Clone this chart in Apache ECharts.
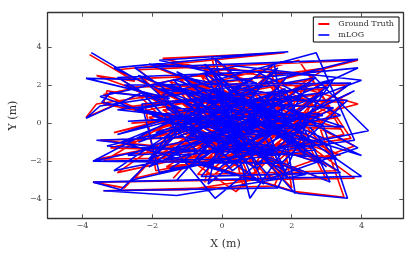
<!DOCTYPE html>
<html><head><meta charset="utf-8">
<script src="https://cdn.jsdelivr.net/npm/echarts@6/dist/echarts.min.js"></script>
<style>html,body{margin:0;padding:0;background:#fff}#c{width:416px;height:257px}</style>
</head><body><div id="c"></div>
<script>
const seriesNames = ["Ground Truth", "mLOG"];
const tickValues = [-4, -2, 0, 2, 4];
const groundTruth = [
[-3.8,3.6],[-2.5,2.2],[-3.6,2.5],[-1.6,1.2],[-3.3,1.7],[-3.4,1.0],[0.5,-0.4],[-3.0,2.8],[1.8,3.7],[-1.7,3.4],
[0.9,2.2],[-3.6,1.0],[-3.9,0.3],[-2.4,1.5],[-0.8,-1.4],[-3.5,-0.9],[2.2,-0.6],[-0.3,3.5],[0.6,-3.3],[3.1,2.2],
[-3.1,-0.5],[-1.2,0.4],[-3.4,-2.0],[1.6,-2.0],[3.5,1.1],[-0.4,1.3],[-2.8,-3.4],[-3.7,-3.1],[3.8,-2.9],[1.0,0.8],
[-2.0,3.0],[2.5,2.6],[3.5,-0.6],[-1.9,-2.5],[-2.2,0.9],[2.9,1.8],[-0.5,-3.1],[0.2,1.6],[3.9,3.3],[-2.4,2.8],
[0.5,-1.2],[-3.0,-2.6],[1.4,3.0],[2.0,-3.4],[0.0,0.3],[-2.6,0.0],[2.7,0.6],[1.2,-1.6],[-1.4,2.6],[3.4,-1.7],
[-0.9,0.9],[-2.0,-1.8],[3.9,1.0],[0.3,2.9],[-3.4,1.5],[-0.6,-0.6],[2.3,-2.6],[-1.0,-3.5],[-3.4,-3.55],[1.5,-3.3],
[2.6,1.2],[-1.2,2.3],[0.8,-0.9],[-2.7,1.9],[3.6,2.0],[0.2,-2.4],[-1.8,1.4],[2.2,3.3],[3.7,-0.8],[-0.3,-1.8],
[-3.6,-1.9],[1.0,-0.2],[-0.6,3.0],[2.9,-2.2],[0.6,1.0],[-2.3,-0.9],[1.7,1.7],[3.0,-3.0],[-0.2,-0.8],[-2.9,2.3],
[0.9,2.6],[3.3,0.3],[-1.5,-1.2],[0.4,-3.6],[2.4,0.0],[-0.8,1.8],[1.9,-1.0],[-2.5,-2.9],[-0.1,2.1],[3.0,2.9],
[0.7,0.2],[-1.6,-2.3],[2.6,-1.3],[-0.4,0.6],[1.3,-2.8],[3.8,-1.2],[1.1,1.3],[-1.3,-0.3],[0.3,-2.0],[2.8,1.5],
[-2.1,0.3],[0.0,-1.2],[1.8,2.4],[-0.7,-2.7],[3.3,-2.5],[0.5,0.6],[-1.9,2.0],[1.6,0.4],[-0.9,-1.9],[2.1,-3.6],
[3.5,-3.9],[2.8,-0.2],[0.1,1.2],[-1.1,-0.9],[1.4,-1.3],[-2.6,-1.6],[-0.2,0.0],[2.4,2.0],[0.9,-2.3],[-1.7,0.7],
[1.2,0.5],[-2.2,-2.2],[0.3,0.9],[2.7,-2.0],[-0.5,-0.3],[1.5,2.8],[-1.4,-2.9],[0.9,1.7],[-2.9,0.8],[1.9,-0.4],
[-0.6,2.5],[0.7,-1.5],[3.1,0.9],[-1.2,1.1],[0.2,-0.9],[2.2,1.4],[-1.8,-0.7],[0.6,2.1],[1.7,-2.4],[-0.9,0.2],
[2.5,-0.9],[-2.3,2.4],[0.0,-1.6],[1.4,1.0],[-1.6,-1.6],[2.9,-1.0],[-0.3,1.6],[0.8,-2.9],[-2.8,-1.1],[1.3,2.1],
[3.2,-1.8],[-0.7,-1.1],[0.4,0.1],[-1.9,1.7],[2.0,0.8],[-0.2,-2.3],[1.0,-0.6],[-2.4,0.6],[2.6,2.3],[-1.0,-2.2],
[0.5,1.4],[3.4,-0.3],[-1.4,0.0],[1.1,-3.1],[-0.4,2.7],[2.3,-1.6],[-3.2,-1.3],[0.7,0.5],[1.8,-2.8],[-1.1,1.6],
[0.1,-0.4],[2.8,0.3],[-2.0,-0.4],[1.5,1.5],[-0.5,-2.0],[3.7,1.6],[0.3,-1.4],[-1.5,2.2],[1.9,0.1],[-0.8,-0.7]
];
const mLOG = [
[-3.75,3.7],[-2.45,2.3],[-3.9,2.35],[-1.5,1.3],[-3.2,1.6],[-3.45,1.1],[0.6,-0.3],[-3.1,2.9],[1.9,3.75],[-1.8,3.3],
[1.0,2.1],[-3.5,0.9],[-3.9,0.25],[-2.3,1.6],[-0.7,-1.5],[-3.6,-0.9],[2.3,-0.5],[-0.2,3.4],[0.8,-3.95],[3.2,2.3],
[-3.0,-0.6],[-1.1,0.5],[-3.7,-2.0],[1.7,-2.1],[3.6,1.2],[-0.3,1.2],[-2.9,-3.5],[-3.7,-3.1],[4.0,-2.8],[1.1,0.9],
[-2.1,3.1],[2.6,2.5],[4.2,-0.4],[-1.8,-2.6],[-2.3,1.0],[3.0,1.9],[-0.4,-3.2],[0.3,1.7],[3.9,3.35],[-2.5,2.9],
[0.6,-1.1],[-3.1,-2.5],[1.5,3.1],[2.1,-3.7],[0.1,0.4],[-2.7,0.1],[2.8,0.5],[1.3,-1.7],[-1.3,2.7],[4.0,-1.7],
[-0.8,1.0],[-2.1,-1.9],[4.0,2.25],[0.4,3.0],[-3.5,1.4],[-0.5,-0.5],[2.4,-2.7],[-1.3,-3.8],[-3.4,-3.55],[1.6,-3.4],
[2.7,1.1],[-1.1,2.4],[0.9,-0.8],[-2.8,2.0],[3.7,2.1],[0.3,-2.5],[-1.7,1.5],[2.7,3.7],[3.8,-0.9],[-0.2,-1.9],
[-3.7,-2.0],[1.1,-0.1],[-0.5,3.1],[3.0,-2.3],[0.7,1.1],[-2.4,-1.0],[1.8,1.8],[3.1,-3.1],[-0.1,-0.7],[-3.0,2.4],
[1.0,2.7],[3.4,0.4],[-1.4,-1.3],[-0.2,-3.95],[2.5,0.1],[-0.7,1.9],[2.0,-1.1],[-2.6,-3.0],[0.0,2.2],[3.9,2.9],
[0.8,0.3],[-1.5,-2.4],[2.7,-1.4],[-0.3,0.7],[1.4,-2.9],[3.9,-1.3],[1.2,1.4],[-1.2,-0.2],[0.4,-2.1],[2.9,1.6],
[-2.0,0.4],[0.1,-1.1],[1.9,2.5],[-0.6,-2.8],[3.4,-2.6],[0.6,0.7],[-1.8,2.1],[1.7,0.5],[-0.8,-2.0],[2.2,-3.7],
[3.6,-3.95],[2.9,-0.1],[0.2,1.3],[-1.0,-0.8],[1.5,-1.2],[-2.7,-1.7],[-0.1,0.1],[2.5,2.1],[1.0,-2.4],[-1.6,0.8],
[1.3,0.6],[-2.1,-2.3],[0.4,1.0],[2.8,-2.1],[-0.4,-0.2],[1.6,2.9],[-1.3,-3.0],[1.0,1.6],[-3.0,0.7],[2.0,-0.3],
[-0.5,2.6],[0.8,-1.6],[3.2,0.8],[-1.1,1.2],[0.3,-1.0],[2.3,1.5],[-1.7,-0.8],[0.7,2.2],[1.8,-2.5],[-0.8,0.3],
[2.6,-1.0],[-2.4,2.5],[0.1,-1.7],[1.5,1.1],[-1.5,-1.7],[3.0,-1.1],[-0.2,1.7],[0.9,-3.0],[-2.9,-1.0],[1.4,2.2],
[3.3,-1.9],[-0.6,-1.2],[0.5,0.2],[-1.8,1.8],[2.1,0.9],[-0.1,-2.4],[1.1,-0.5],[-2.5,0.7],[2.7,2.4],[-0.9,-2.3],
[0.6,1.5],[3.5,-0.2],[-1.3,0.1],[1.2,-3.2],[-0.3,2.8],[2.4,-1.7],[-3.3,-1.2],[0.8,0.6],[1.9,-2.9],[-1.0,1.7],
[0.2,-0.3],[2.9,0.4],[-1.9,-0.5],[1.6,1.6],[-0.4,-2.1],[3.8,1.7],[0.4,-1.3],[-1.4,2.3],[2.0,0.2],[-0.7,-0.6]
];

const font = "'DejaVu Serif', 'Liberation Serif', serif";
const chart = echarts.init(document.getElementById('c'), null, {renderer: 'canvas'});
const frameAxis = (pos, show, margin) => ({
  position: pos,
  axisLine: {show: true, onZero: false, lineStyle: {color: '#333', width: 1.3}},
  axisTick: {show: true, inside: true, length: 4, customValues: tickValues, lineStyle: {color: '#555', width: 1}},
  axisLabel: {show: show, margin: margin, customValues: tickValues, fontFamily: font, fontSize: 8, color: '#444',
    formatter: v => (v < 0 ? '\u2212' + Math.abs(v) : String(v))},
  splitLine: {show: false}
});
chart.setOption({
  animation: false,
  backgroundColor: '#fff',
  grid: {left: 42.7, right: 12.7, top: 12.7, bottom: 38.7},
  legend: {
    orient: 'vertical', right: 17, top: 17, padding: [3, 5, 3, 5], itemGap: 3,
    itemWidth: 11, itemHeight: 2, icon: 'rect',
    borderColor: '#000', borderWidth: 1, backgroundColor: '#fff',
    textStyle: {fontFamily: font, fontSize: 8, color: '#333', padding: [0, 0, 0, 4]},
    data: seriesNames
  },
  xAxis: [
    Object.assign({type: 'value', min: -5, max: 5.2, name: 'X (m)', nameLocation: 'middle', nameGap: 20,
      nameTextStyle: {fontFamily: font, fontSize: 11, color: '#333'}}, frameAxis('bottom', true, 4)),
    Object.assign({type: 'value', min: -5, max: 5.2}, frameAxis('top', false, 4))
  ],
  yAxis: [
    Object.assign({type: 'value', min: -5, max: 5.8, name: 'Y (m)', nameLocation: 'middle', nameGap: 22,
      nameTextStyle: {fontFamily: font, fontSize: 11, color: '#333'}}, frameAxis('left', true, 6)),
    Object.assign({type: 'value', min: -5, max: 5.8}, frameAxis('right', false, 6))
  ],
  series: [
    {name: seriesNames[0], type: 'line', data: groundTruth, showSymbol: false, symbol: 'none',
      lineStyle: {color: '#ff0000', width: 1.6}, itemStyle: {color: '#ff0000'}, z: 2},
    {name: seriesNames[1], type: 'line', data: mLOG, showSymbol: false, symbol: 'none',
      lineStyle: {color: '#0000ff', width: 1.6}, itemStyle: {color: '#3333ff'}, z: 3}
  ]
});
</script></body></html>
